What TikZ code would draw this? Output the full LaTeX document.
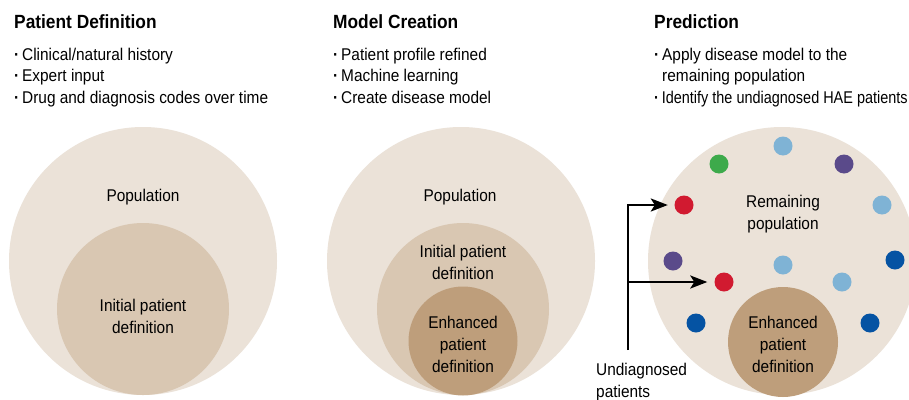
\documentclass[tikz,border=0pt]{standalone}
\usepackage{fontspec}
\setmainfont[FakeStretch=0.907]{Liberation Sans}
\newfontfamily\narrowfont[FakeStretch=0.85]{Liberation Sans}
\usetikzlibrary{arrows.meta}
\definecolor{popc}{HTML}{EBE2D8}
\definecolor{initc}{HTML}{D9C7B2}
\definecolor{enhc}{HTML}{BE9E7B}
\definecolor{lblue}{HTML}{7FB3D5}
\definecolor{dblue}{HTML}{0553A3}
\definecolor{dgreen}{HTML}{3DAA4B}
\definecolor{dpurple}{HTML}{5A4A8A}
\definecolor{dred}{HTML}{D11A30}
\newcommand{\bdot}{{\bfseries·}\,}
\begin{document}
\begin{tikzpicture}[x=1pt,y=-1pt,
  heading/.style={anchor=base west,inner sep=0pt,font=\fontsize{19.1}{22}\selectfont\bfseries},
  bullet/.style={anchor=base west,inner sep=0pt,font=\fontsize{17}{21.5}\selectfont},
  label/.style={align=center,inner sep=0pt,font=\fontsize{17}{22}\selectfont},
  dot/.style={circle,fill=#1,minimum size=19pt,inner sep=0pt},
  arr/.style={line width=2.5pt,-{Stealth[length=17pt,width=13pt,inset=4pt]}}]
\useasboundingbox (0,0) rectangle (909,399);
\fill[white] (0,0) rectangle (909,399);
\begin{scope}
\clip (0,0) rectangle (909,399);
% left
\fill[popc] (143,261) circle (134);
\fill[initc] (143,309) circle (86);
% middle
\fill[popc] (461,261) circle (134);
\fill[initc] (463,309) circle (86);
\fill[enhc] (463,341) circle (54.5);
% right
\fill[popc] (782,261) circle (134);
\fill[enhc] (783,342) circle (55);
\end{scope}
% headings
\node[heading] (h1) at (14,28) {Patient Definition};
\node[bullet] (a1) at (14,60) {\bdot Clinical/natural history};
\node[bullet] (a2) at (14,81.5) {\bdot Expert input};
\node[bullet] (a3) at (14,103) {\bdot Drug and diagnosis codes over time};
\node[heading] (h2) at (333,28) {Model Creation};
\node[bullet] (b1) at (333,60) {\bdot Patient profile refined};
\node[bullet] (b2) at (333,81.5) {\bdot Machine learning};
\node[bullet] (b3) at (333,103) {\bdot Create disease model};
\node[heading] (h3) at (654,28) {Prediction};
\node[bullet] (c1) at (654,60) {\bdot Apply disease model to the};
\node[bullet] (c2) at (662,81.5) {remaining population};
\node[bullet,font=\fontsize{17}{21.5}\narrowfont] (c3) at (654,103) {\bdot Identify the undiagnosed HAE patients};
% circle labels
\node[label] (p1) at (143,197) {Population};
\node[label] (i1) at (143,316) {Initial patient\\definition};
\node[label] (p2) at (460,197) {Population};
\node[label] (i2) at (463,262) {Initial patient\\definition};
\node[label] (e2) at (463,344) {Enhanced\\patient\\definition};
\node[label] (r3) at (783,214) {Remaining\\population};
\node[label] (e3) at (783,344) {Enhanced\\patient\\definition};
% dots
\node[dot=lblue] (d1) at (783,146) {};
\node[dot=dgreen] (d2) at (719,164) {};
\node[dot=dpurple] (d3) at (844,164) {};
\node[dot=dred] (red1) at (684,205) {};
\node[dot=lblue] (d5) at (882,205) {};
\node[dot=dpurple] (d6) at (673,261) {};
\node[dot=lblue] (d7) at (783,265) {};
\node[dot=dblue] (d8) at (895,260) {};
\node[dot=dred] (red2) at (724,282) {};
\node[dot=lblue] (d10) at (842,282) {};
\node[dot=dblue] (d11) at (696,323) {};
\node[dot=dblue] (d12) at (870,323) {};
% undiagnosed
\node[bullet] (u1) at (596,375) {Undiagnosed};
\node[bullet] (u2) at (596,397) {patients};
\coordinate (ubase) at (628,350);
\coordinate (ujoin) at (628,282);
\draw[arr,shorten >=6.5pt] (ubase) |- (red1.west);
\draw[arr,shorten >=7pt] (ujoin) -- (red2.west);
\end{tikzpicture}
\end{document}
